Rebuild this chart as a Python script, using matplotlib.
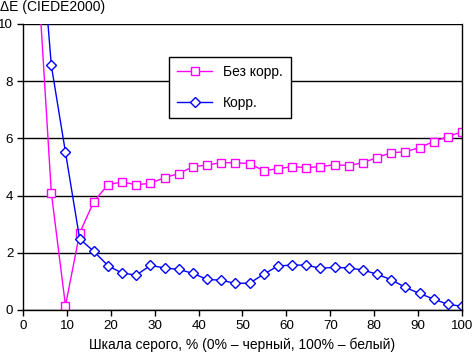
import matplotlib
matplotlib.use('Agg')
from matplotlib import pyplot as plt

plt.rcParams['font.family'] = ['Liberation Sans', 'DejaVu Sans']

# gray levels, % (32 steps)
x = [i * 100 / 31 for i in range(32)]
no_corr = [14.0, 12.2, 4.10, 0.15, 2.69, 3.79, 4.38, 4.48, 4.38, 4.43, 4.63, 4.77,
           5.01, 5.07, 5.15, 5.15, 5.12, 4.87, 4.94, 5.01, 4.98, 5.01, 5.08, 5.05,
           5.15, 5.33, 5.50, 5.53, 5.68, 5.89, 6.06, 6.23]
corr = [18.0, 14.7, 8.55, 5.51, 2.49, 2.05, 1.55, 1.29, 1.22, 1.56, 1.47, 1.42,
        1.28, 1.07, 1.04, 0.93, 0.94, 1.25, 1.54, 1.57, 1.57, 1.46, 1.49, 1.47,
        1.40, 1.25, 1.06, 0.79, 0.58, 0.38, 0.20, 0.13]
xticks = [0, 10, 20, 30, 40, 50, 60, 70, 80, 90, 100]
yticks = [0, 2, 4, 6, 8, 10]

fig = plt.figure(figsize=(4.72, 3.53), dpi=100)
ax = fig.add_axes([23/472, 43/353, 439/472, 286/353])

ax.plot(x, no_corr, color='#ff00ff', lw=1, marker='s', ms=6, mfc='white',
        mec='#ff00ff', mew=1, label='Без корр.')
ax.plot(x, corr, color='#0000ff', lw=1, marker='D', ms=5.5, mfc='white',
        mec='#0000ff', mew=1, label='Корр.')

ax.set_xlim(0, 100)
ax.set_ylim(0, 10)
ax.set_xticks(xticks)
ax.set_yticks(yticks)
ax.yaxis.grid(True, color='black', lw=1)
ax.set_axisbelow(True)
ax.spines['top'].set_visible(False)
for s in ['left', 'bottom', 'right']:
    ax.spines[s].set_linewidth(1)
ax.tick_params(direction='out', length=4, width=1, labelsize=9.6, pad=3)
ax.set_xlabel('Шкала серого, % (0% – черный, 100% – белый)', fontsize=10, labelpad=4)
fig.text(0.0, 1.0, 'ΔE (CIEDE2000)', fontsize=10, ha='left', va='top')

leg = ax.legend(loc='upper left', bbox_to_anchor=(146/439, 1 - 33/286), fontsize=10,
                frameon=True, fancybox=False, edgecolor='black', framealpha=1,
                borderpad=0.6, labelspacing=1.2, handlelength=2.5, borderaxespad=0)
leg.get_frame().set_linewidth(1)

fig.savefig('out.png', dpi=100)
